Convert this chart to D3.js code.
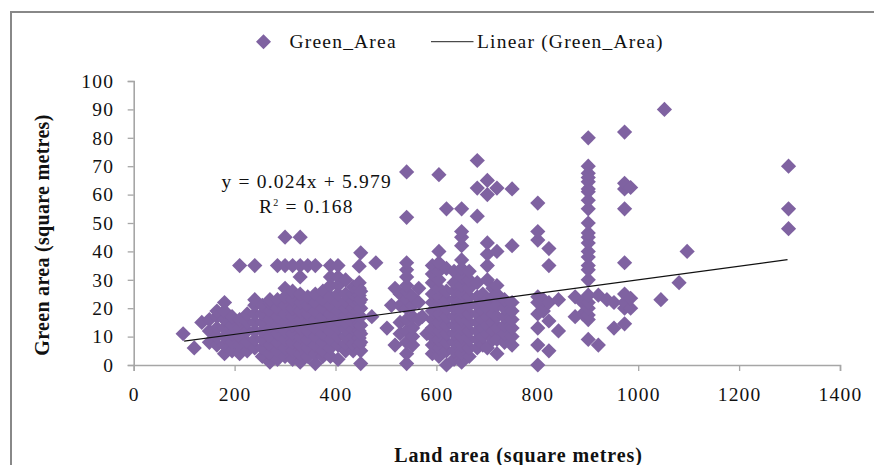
<!DOCTYPE html>
<html><head><meta charset="utf-8">
<script src="https://cdn.jsdelivr.net/npm/d3@7/dist/d3.min.js"></script>
<style>html,body{margin:0;padding:0;background:#fff;overflow:hidden}svg{display:block}text{font-family:"Liberation Serif",serif;fill:#111}</style>
</head><body><svg id="c" width="874" height="465"></svg>
<script>
const xTicks=[0,200,400,600,800,1000,1200,1400];
const yTicks=[0,10,20,30,40,50,60,70,80,90,100];
const landArea=[98,120,135,150,165,180,195,210,225,240,255,270,285,300,315,330,345,360,375,390,405,420,435,447,450,472,480,502,511,518,528,541,553,565,572,581,592,605,620,635,650,665,681,692,701,712,720,735,750,801,812,823,842,875,890,901,921,938,952,973,985,1045,1081,1097,1298];
const greenArea=[
[11],[6],[15],[8,12,16],[7,10,13,17,19],[4,7,10,13,16,19,22],[5,8,11,14,17],[4,7,10,13,16,35],[5,8,12,15,18],
[6,9,12,15,18,21,23,35],[3,6,9,12,15,18,21],[1,4,7,10,13,16,19,22,23],[2,5,8,11,14,17,20,23,35],
[3,6,9,12,15,18,21,24,27,35,45],[2,5,8,11,14,17,20,23,26,35],[1,4,7,10,13,16,19,22,25,31,35,45],
[3,6,9,12,15,18,21,24,35],[0.5,4,7,10,13,16,19,22,25,35],[3,5,8,11,14,17,20,23,26],
[3,6,9,12,15,18,21,24,28,31,35],[2,7,10,13,16,19,22,25,28,31,35],[5,7.5,10,12.5,15,17.5,20,22.5,25,30],[5,7.5,10,12.5,15,17.5,20,22.5,25,27.5],
[7,9.5,12,14.5,17,19.5,22,24.5,27,29,34.8],[0.5,5,8,11,14,17,20,23,26,39.5],[17],[36],[13],[21],[7,27],[11,15,21,25],
[0.5,4,8,12,16,20,23,26,28,31,33.5,36,52,68],[7,10,13,17,21,24],[16,22,27],[17],
[11],[4,7,10,13,16,19,22,25,29,32,35],[3,6,9,12,15,18,21,24,27,30,33,36,40,67],[0,5,8,11,14,17,20,23,26,34,55],
[2,5,8,11,14,17,20,23,26,29,33],[1,4,7,10,13,16,19,22,25,28,31,34,37,42,45,47,55],[3,6,9,12,15,18,21,24,27,30,33],
[6,9,12,15,18,21,24,29,52.4,62.3,72],[7,10,13,16,19,22,25],[6,11,14,17,20,23,30,35,39,43,60,65],[9,12,15,18,21,24,27],
[4,9,13,17,21,25,28,40,62.3],[8,11,14,17,20,23],[7,10,13,16,19,22,42,62],
[0,7,13,18,22,24,44,47,57],[19,23],[5,15.5,22,35,41],[12,23],[17,24],[18,22],
[9,16,17.6,20,22,24.6,30,33.5,35,38,40,43,45,46.5,50,55,58,61,62,64.5,66,67.5,70,80],[7,24.6],[23],[13,22],
[14.5,20,22,25,36,55,62,64,82],[20,23.5,62.5],[23],[29],[40],[48,55,70]];
const extraLand=[1052];const extraGreen=[90];
const trendX=[100,1296];const slope=0.024,intercept=5.979;
const points=[];landArea.forEach((x,i)=>greenArea[i].forEach(y=>points.push([x,y])));
extraLand.forEach((x,i)=>points.push([x,extraGreen[i]]));

const xScale=d3.scaleLinear().domain([0,1400]).range([133.7,840]);
const yScale=d3.scaleLinear().domain([0,100]).range([365,81]);
const svg=d3.select("#c");
const purple="#7f62a1",axisC="#a6a6a6";
const fs=19.5,ls=1.2;

svg.append("path").attr("d","M874 12H11V465").attr("fill","none").attr("stroke","#888").attr("stroke-width",2);

const xg=svg.append("g").attr("transform","translate(0,365)").call(d3.axisBottom(xScale).tickValues(xTicks).tickSize(6).tickPadding(16).tickFormat(d3.format("d")));
const yg=svg.append("g").attr("transform","translate(133.7,0)").call(d3.axisLeft(yScale).tickValues(yTicks).tickSize(6).tickPadding(13.5).tickFormat(d3.format("d")));
[xg,yg].forEach(g=>{g.selectAll("path,line").attr("stroke",axisC).attr("stroke-width",1.3);g.select(".domain").attr("stroke-width",1.6);
 g.selectAll("text").attr("font-family","Liberation Serif").attr("font-size",fs).attr("letter-spacing",ls).attr("fill","#111");});

const r=7.6;
svg.append("g").selectAll("path").data(points).join("path")
 .attr("d",`M0 ${-r}L${r} 0L0 ${r}L${-r} 0Z`)
 .attr("transform",d=>`translate(${xScale(d[0])},${yScale(d[1])})`).attr("fill",purple);

const line=d3.line().x(d=>xScale(d)).y(d=>yScale(slope*d+intercept));
svg.append("path").attr("d",line(trendX)).attr("fill","none").attr("stroke","#111").attr("stroke-width",1.2);

const label=(x,y,t)=>svg.append("text").attr("x",x).attr("y",y).attr("font-size",fs).attr("letter-spacing",ls).text(t);
svg.append("path").attr("d",`M0 -7.5L7.5 0L0 7.5L-7.5 0Z`).attr("transform","translate(263.5,41.7)").attr("fill",purple);
label(289.5,48,"Green_Area");
svg.append("line").attr("x1",431).attr("x2",473.5).attr("y1",41.7).attr("y2",41.7).attr("stroke","#222").attr("stroke-width",1);
label(477,48,"Linear (Green_Area)");
label(221.5,188,"y = 0.024x + 5.979");
const r2=label(259,212.5,"");
r2.append("tspan").text("R");r2.append("tspan").attr("font-size",10).attr("dy",-7).text("2");r2.append("tspan").attr("dy",7).text(" = 0.168");

svg.append("text").attr("x",518.5).attr("y",462).attr("text-anchor","middle").attr("font-size",20).attr("letter-spacing",0.9).attr("font-weight","bold").text("Land area (square metres)");
svg.append("text").attr("transform","translate(49,235) rotate(-90)").attr("text-anchor","middle").attr("font-size",20).attr("letter-spacing",0.3).attr("font-weight","bold").text("Green area (square metres)");
</script></body></html>
